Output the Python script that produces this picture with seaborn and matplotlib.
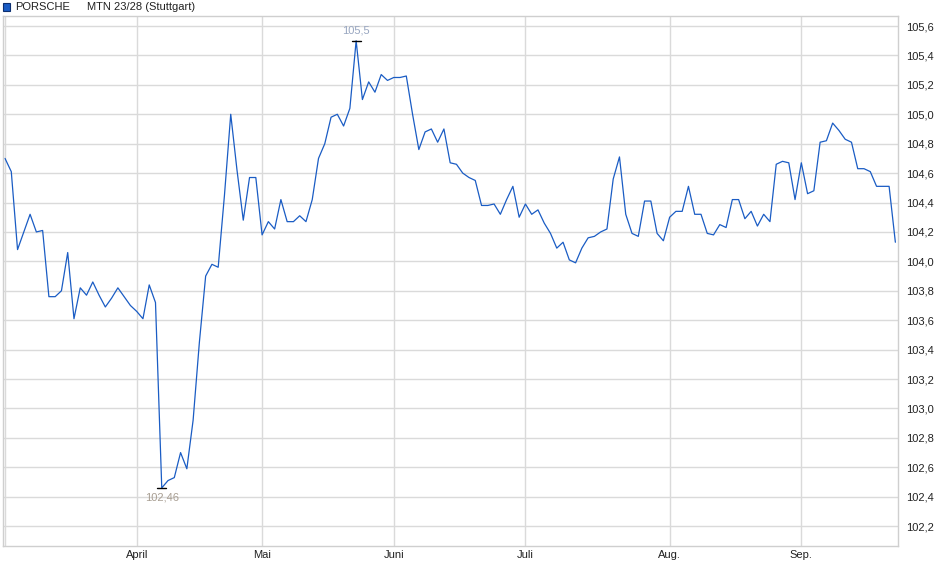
import numpy as np
import pandas as pd
import seaborn as sns
import matplotlib.pyplot as plt
from matplotlib.patches import Rectangle
from matplotlib.ticker import FuncFormatter, MultipleLocator

# Trading days Stuttgart, 03.03.2025 - 22.09.2025 (Good Friday, Easter Monday, 1 May closed)
holidays = ["2025-04-18", "2025-04-21", "2025-05-01"]
dates = pd.bdate_range("2025-03-03", "2025-09-22", freq="C", holidays=holidays)

prices = [
    104.70, 104.61, 104.08, 104.20, 104.32, 104.20, 104.21, 103.76, 103.76, 103.80,
    104.06, 103.61, 103.82, 103.77, 103.86, 103.77, 103.69, 103.75, 103.82, 103.76,
    103.70, 103.66, 103.61, 103.84, 103.72, 102.46, 102.51, 102.53, 102.70, 102.59,
    102.92, 103.45, 103.90, 103.98, 103.96, 104.45, 105.00, 104.62, 104.28, 104.57,
    104.57, 104.18, 104.27, 104.22, 104.42, 104.27, 104.27, 104.31, 104.27, 104.42,
    104.70, 104.80, 104.98, 105.00, 104.92, 105.04, 105.50, 105.10, 105.22, 105.15,
    105.27, 105.23, 105.25, 105.25, 105.26, 105.00, 104.76, 104.88, 104.90, 104.81,
    104.90, 104.67, 104.66, 104.60, 104.57, 104.55, 104.38, 104.38, 104.39, 104.32,
    104.42, 104.51, 104.30, 104.39, 104.32, 104.35, 104.26, 104.19, 104.09, 104.13,
    104.01, 103.99, 104.09, 104.16, 104.17, 104.20, 104.22, 104.56, 104.71, 104.32,
    104.19, 104.17, 104.41, 104.41, 104.19, 104.14, 104.30, 104.34, 104.34, 104.51,
    104.32, 104.32, 104.19, 104.18, 104.25, 104.23, 104.42, 104.42, 104.29, 104.34,
    104.24, 104.32, 104.27, 104.66, 104.68, 104.67, 104.42, 104.67, 104.46, 104.48,
    104.81, 104.82, 104.94, 104.89, 104.83, 104.81, 104.63, 104.63, 104.61, 104.51,
    104.51, 104.51, 104.13,
]

month_names = {3: "", 4: "April", 5: "Mai", 6: "Juni", 7: "Juli", 8: "Aug.", 9: "Sep."}

df = pd.DataFrame({"date": dates[:len(prices)], "price": prices})
df["idx"] = np.arange(len(df))

# first trading day of every month -> vertical grid + label
first = df.groupby(df["date"].dt.month)["idx"].min()
tick_pos = first.values
tick_lab = [month_names[m] for m in first.index]

sns.set_style("white")
plt.rcParams["font.family"] = ["Liberation Sans", "DejaVu Sans"]

fig = plt.figure(figsize=(9.4, 5.79), dpi=100)
ax = fig.add_axes([3 / 940, 33 / 579, 895 / 940, 530 / 579])

grid_c = "#dadada"
sns.lineplot(data=df, x="idx", y="price", ax=ax, color="#1a5cc4", linewidth=0.9)

ax.set_xlim(-0.32, 142.42)
ax.set_ylim(102.065, 105.668)
ax.set_xticks(tick_pos)
ax.set_xticklabels(tick_lab)
ax.yaxis.set_major_locator(MultipleLocator(0.2))
ax.yaxis.set_major_formatter(FuncFormatter(lambda v, p: f"{v:.1f}".replace(".", ",")))
ax.yaxis.tick_right()
ax.grid(True, color=grid_c, linewidth=1.0)
ax.set_axisbelow(True)
ax.tick_params(axis="both", length=0, labelsize=8, colors="#222222")
ax.tick_params(axis="y", pad=6)
ax.tick_params(axis="x", pad=3)
ax.set_xlabel("")
ax.set_ylabel("")
for s in ax.spines.values():
    s.set_color("#cfcfcf")
    s.set_linewidth(1.0)

# high / low marks
i_hi = int(np.argmax(prices))
i_lo = int(np.argmin(prices))
ax.plot([i_hi - 0.7, i_hi + 0.7], [prices[i_hi]] * 2, color="black", lw=1.0)
ax.plot([i_lo - 0.7, i_lo + 0.7], [prices[i_lo]] * 2, color="black", lw=1.0)
ax.annotate(f"{prices[i_hi]:g}".replace(".", ","), (i_hi, prices[i_hi]),
            xytext=(0, 7), textcoords="offset points", ha="center", va="center",
            fontsize=8, color="#98a6c0")
ax.annotate(f"{prices[i_lo]:g}".replace(".", ","), (i_lo, prices[i_lo]),
            xytext=(0, -7), textcoords="offset points", ha="center", va="center",
            fontsize=8, color="#a89e92")

# legend line at the top
fig.add_artist(Rectangle((3 / 940, 1 - 10.5 / 579), 7 / 940, 7 / 579,
                         transform=fig.transFigure, facecolor="#1a5cc4",
                         edgecolor="#0d2f70", linewidth=0.8))
fig.text(15 / 940, 1 - 6.5 / 579, "PORSCHE", fontsize=8, va="center", color="#222222")
fig.text(87 / 940, 1 - 6.5 / 579, "MTN 23/28 (Stuttgart)", fontsize=8, va="center",
         color="#222222")

fig.savefig("out.png", dpi=100)
